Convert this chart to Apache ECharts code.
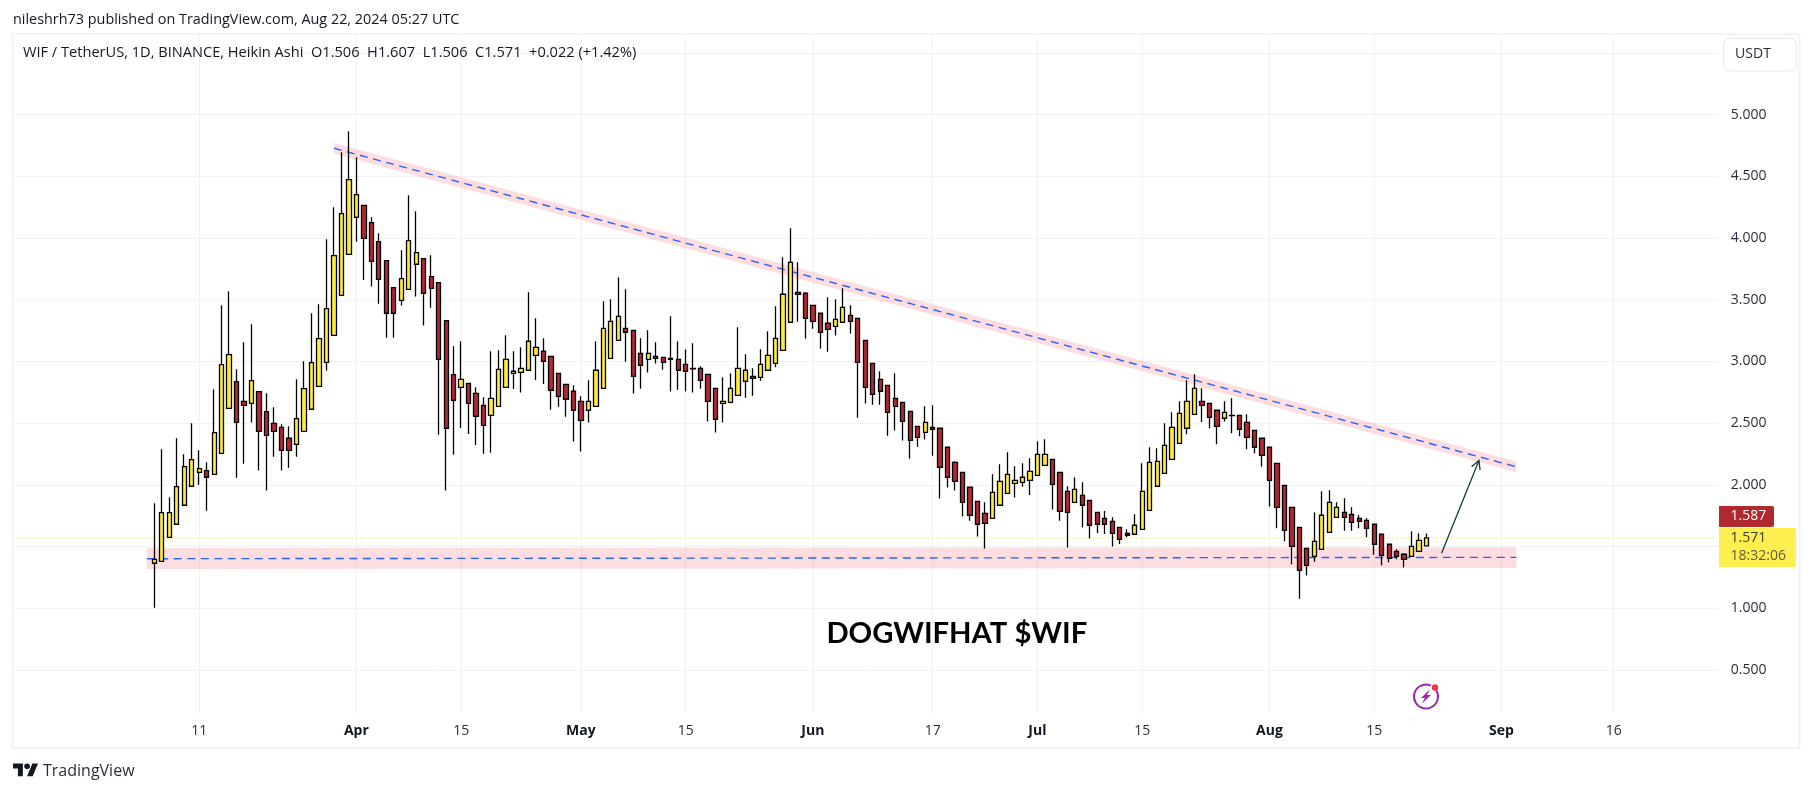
<!DOCTYPE html>
<html><head><meta charset="utf-8"><title>WIF</title>
<style>html,body{margin:0;padding:0;background:#fff}#c{width:1814px;height:792px}</style>
<script src="https://cdn.jsdelivr.net/npm/echarts@6/dist/echarts.min.js"></script></head>
<body><div id="c"></div>
<script>
const opens=[1.365,1.381,1.575,1.681,1.835,1.989,2.102,2.116,2.086,2.256,
2.621,2.837,2.677,2.661,2.756,2.594,2.499,2.467,2.378,2.329,
2.434,2.613,2.799,2.993,3.212,3.536,3.869,4.169,4.266,4.125,
3.971,3.817,3.599,3.496,3.585,3.788,3.834,3.688,3.639,3.331,
2.894,2.791,2.823,2.742,2.645,2.564,2.637,2.791,2.904,2.912,
2.929,3.050,3.083,3.042,2.904,2.815,2.759,2.677,2.605,2.637,
2.783,3.026,3.172,3.269,3.253,3.066,3.018,3.042,3.034,3.026,
3.018,2.977,2.945,2.945,2.896,2.783,2.661,2.669,2.726,2.840,
2.880,2.872,2.929,2.985,3.091,3.318,3.561,3.553,3.455,3.391,
3.310,3.285,3.318,3.374,3.350,3.172,2.985,2.856,2.807,2.702,
2.669,2.596,2.475,2.426,2.467,2.459,2.305,2.183,2.102,1.981,
1.867,1.770,1.729,1.835,1.932,2.013,2.021,2.037,2.078,2.159,
2.207,2.102,1.948,1.859,1.916,1.875,1.778,1.729,1.705,1.656,
1.608,1.600,1.640,1.794,1.989,2.094,2.207,2.337,2.459,2.572,
2.677,2.661,2.605,2.540,2.564,2.564,2.507,2.442,2.378,2.305,
2.175,1.997,1.818,1.656,1.486,1.421,1.478,1.616,1.737,1.778,
1.762,1.729,1.713,1.681,1.600,1.519,1.462,1.438,1.421,1.462,1.506];
const closes=[1.397,1.775,1.775,1.986,2.148,2.205,2.132,2.062,2.424,2.975,
3.056,2.507,2.645,2.845,2.434,2.402,2.434,2.280,2.280,2.537,
2.780,2.991,3.185,3.428,3.858,4.198,4.474,4.352,3.998,3.812,
3.666,3.391,3.391,3.671,3.979,3.882,3.553,3.593,3.018,2.459,
2.686,2.856,2.661,2.556,2.483,2.702,2.937,3.018,2.921,2.945,
3.164,3.115,3.002,2.767,2.718,2.694,2.605,2.523,2.677,2.929,
3.269,3.326,3.366,3.237,2.880,2.969,3.066,3.026,2.993,3.018,
2.929,2.921,2.940,2.848,2.677,2.532,2.677,2.783,2.945,2.929,
2.864,2.977,3.050,3.188,3.545,3.804,3.545,3.350,3.326,3.237,
3.261,3.342,3.439,3.326,2.993,2.791,2.734,2.759,2.588,2.637,
2.515,2.361,2.386,2.507,2.451,2.143,2.062,2.029,1.859,1.754,
1.681,1.689,1.940,2.029,2.086,2.037,2.062,2.110,2.248,2.248,
2.005,1.786,1.778,1.964,1.835,1.673,1.681,1.681,1.608,1.559,
1.592,1.673,1.948,2.183,2.191,2.321,2.467,2.580,2.677,2.783,
2.645,2.548,2.475,2.588,2.561,2.451,2.386,2.305,2.240,2.037,
1.818,1.632,1.502,1.308,1.348,1.543,1.754,1.859,1.818,1.737,
1.697,1.705,1.648,1.519,1.429,1.405,1.421,1.397,1.502,1.551,1.571];
const lows=[1.005,1.381,1.575,1.681,1.835,1.989,2.002,1.791,2.086,2.256,
2.621,2.059,2.172,2.505,2.116,1.954,2.229,2.116,2.140,2.229,
2.434,2.613,2.799,2.926,3.212,3.536,3.869,3.971,3.661,3.607,
3.469,3.193,3.193,3.453,3.585,3.526,3.291,3.436,2.407,1.954,
2.245,2.461,2.413,2.324,2.253,2.261,2.637,2.791,2.777,2.748,
2.929,2.850,2.818,2.610,2.634,2.553,2.351,2.270,2.505,2.637,
2.783,3.026,3.172,2.999,2.740,2.780,2.910,2.983,2.934,2.756,
2.772,2.756,2.748,2.780,2.513,2.424,2.505,2.661,2.726,2.707,
2.723,2.845,2.929,2.953,3.091,3.318,3.323,3.185,3.266,3.104,
3.080,3.210,3.318,3.226,2.545,2.659,2.650,2.650,2.399,2.440,
2.359,2.213,2.310,2.367,2.237,1.889,1.978,1.954,1.743,1.710,
1.581,1.484,1.729,1.835,1.932,1.897,1.986,1.918,2.078,2.159,
1.800,1.710,1.492,1.859,1.654,1.565,1.610,1.602,1.500,1.521,
1.575,1.600,1.640,1.794,1.989,2.094,2.207,2.337,2.410,2.572,
2.507,2.459,2.329,2.513,2.418,2.394,2.288,2.256,2.148,1.824,
1.648,1.543,1.357,1.078,1.265,1.378,1.478,1.616,1.737,1.629,
1.629,1.648,1.575,1.435,1.348,1.373,1.397,1.330,1.421,1.462,1.506];
const highs=[1.851,2.288,1.900,2.378,2.248,2.499,2.280,2.183,2.775,3.455,
3.569,2.937,3.156,3.301,2.756,2.742,2.629,2.491,2.475,2.856,
3.002,3.391,3.464,3.990,4.250,4.695,4.865,4.655,4.266,4.169,
4.039,3.817,3.599,3.901,4.347,4.217,3.834,3.861,3.639,3.331,
3.123,3.164,2.823,2.791,2.710,3.083,3.091,3.212,3.083,3.115,
3.561,3.350,3.188,3.042,2.904,2.815,2.807,2.718,2.848,3.164,
3.488,3.504,3.682,3.585,3.253,3.188,3.253,3.156,3.034,3.366,
3.164,3.099,3.147,2.961,2.896,2.783,2.872,2.904,3.277,3.058,
2.945,3.099,3.245,3.447,3.844,4.079,3.804,3.561,3.455,3.391,
3.520,3.504,3.593,3.455,3.350,3.172,2.985,2.921,2.807,2.904,
2.669,2.596,2.475,2.637,2.645,2.459,2.305,2.191,2.102,1.981,
1.867,1.859,2.086,2.167,2.264,2.151,2.175,2.216,2.353,2.370,
2.207,2.102,1.989,2.062,2.021,1.875,1.778,1.789,1.737,1.656,
1.640,1.762,2.175,2.305,2.297,2.499,2.588,2.677,2.848,2.896,
2.783,2.661,2.605,2.677,2.702,2.564,2.572,2.442,2.378,2.305,
2.175,1.997,1.818,1.656,1.486,1.778,1.948,1.956,1.859,1.891,
1.818,1.756,1.729,1.681,1.600,1.519,1.478,1.446,1.624,1.608,1.607];

// days counted from the first candle (5 Mar 2024)
const timeTickDays=[6,27,41,57,71,88,104,118,132,149,163,180,195];
const timeTickLabels=['11','Apr','15','May','15','Jun','17','Jul','15','Aug','15','Sep','16'];
const monthLabels=['Apr','May','Jun','Jul','Aug','Sep'];
const priceGrid=[0.5,1,1.5,2,2.5,3,3.5,4,4.5,5,5.5];
const priceLabels=[0.5,1,1.5,2,2.5,3,3.5,4,4.5,5];
const lastPrice=1.571;

// drawings: [day, upper, lower, day, upper, lower]
const trendBand=[24,4.771,4.685,182,2.190,2.104];
const trendDash=[[24,4.728],[182,2.147]];
const supportBand=[-1,1.489,1.319,182,1.494,1.327];
const supportDash=[[-1,1.402],[182,1.413]];
const arrowLine=[172,1.446,177,2.197];

const LEAD=19, BANDS=229, STEP=7.484, FIRST_X=154.3;
const gridLeft=FIRST_X-(LEAD+.5)*STEP;
const cats=Array.from({length:BANDS},(_,i)=>i-LEAD);
const tickIdx=new Map(timeTickDays.map((d,k)=>[d+LEAD,timeTickLabels[k]]));
const blank=Array.from({length:LEAD},()=>['-','-','-','-']);
const candles=blank.concat(opens.map((o,i)=>[o,closes[i],lows[i],highs[i]]));

const UI='"Open Sans",sans-serif';
const chart=echarts.init(document.getElementById('c'),null,{renderer:'canvas',width:1814,height:792});

function bandItem(p,api){
  const a=api.coord([api.value(0),api.value(1)]),b=api.coord([api.value(0),api.value(2)]),
        c=api.coord([api.value(3),api.value(5)]),d=api.coord([api.value(3),api.value(4)]);
  return {type:'polygon',shape:{points:[a,d,c,b]},style:{fill:'rgba(242,54,69,0.17)'},silent:true};
}
function arrowItem(p,api){
  const a=api.coord([api.value(0),api.value(1)]),b=api.coord([api.value(2),api.value(3)]);
  const ang=Math.atan2(b[1]-a[1],b[0]-a[0]),L=9.5,sp=0.5;
  const w1=[b[0]-L*Math.cos(ang-sp),b[1]-L*Math.sin(ang-sp)],
        w2=[b[0]-L*Math.cos(ang+sp),b[1]-L*Math.sin(ang+sp)];
  const st={stroke:'#123f3c',lineWidth:1.3,fill:null};
  return {type:'group',children:[
    {type:'polyline',shape:{points:[a,b]},style:st},
    {type:'polyline',shape:{points:[w1,b,w2]},style:st}]};
}
const lineBase={type:'line',xAxisIndex:1,yAxisIndex:0,showSymbol:false,symbol:'none',silent:true,animation:false};

chart.setOption({
  animation:false,backgroundColor:'#fff',
  grid:{left:gridLeft,top:34.5,width:BANDS*STEP,height:678.7,containLabel:false},
  xAxis:[{type:'category',data:cats,boundaryGap:true,
      axisLine:{show:false},axisTick:{show:false},
      splitLine:{show:true,alignWithLabel:true,interval:i=>tickIdx.has(i),lineStyle:{color:'#f1f2f4',width:1}},
      axisLabel:{interval:i=>tickIdx.has(i),margin:11,fontFamily:UI,fontSize:14,color:'#2a2e39',
        formatter:v=>{const t=tickIdx.get(+v+LEAD);return monthLabels.includes(t)?'{b|'+t+'}':t;},
        rich:{b:{fontWeight:700,fontFamily:UI,fontSize:14,color:'#131722'}}}},
    {type:'value',min:-LEAD-.5,max:BANDS-LEAD-.5,show:false,splitLine:{show:false}}],
  yAxis:[{type:'value',min:.15,max:5.65,position:'right',scale:true,
      axisLine:{show:false},axisLabel:{show:false},
      axisTick:{show:false,customValues:priceGrid},
      splitLine:{show:true,lineStyle:{color:'#f1f2f4',width:1}}},
    {type:'value',min:.15,max:5.65,position:'right',z:60,
      axisLine:{show:false},axisTick:{show:false},splitLine:{show:false},
      axisLabel:{show:true,customValues:priceLabels,margin:8.5,fontFamily:UI,fontSize:14,color:'#2a2e39',
        formatter:v=>(+v).toFixed(3)}}],
  series:[
    {type:'custom',xAxisIndex:1,yAxisIndex:0,z:1,clip:false,silent:true,renderItem:bandItem,data:[trendBand,supportBand]},
    {...lineBase,z:2,data:trendDash,lineStyle:{color:'#2962ff',width:1.4,type:[8,5.5]}},
    {...lineBase,z:2,data:supportDash,lineStyle:{color:'#2962ff',width:1.4,type:[8,5.5]}},
    {...lineBase,z:2,data:[[-LEAD-.5,lastPrice],[BANDS-LEAD-.5,lastPrice]],lineStyle:{color:'#ffe600',width:1.2,type:[1,3]}},
    {type:'candlestick',xAxisIndex:0,yAxisIndex:0,z:5,barWidth:4.8,data:candles,silent:true,
      itemStyle:{color:'#ffeb3b',color0:'#b22833',borderColor:'#000',borderColor0:'#000',borderWidth:1.3}},
    {type:'custom',xAxisIndex:1,yAxisIndex:0,z:6,clip:false,silent:true,renderItem:arrowItem,data:[arrowLine]}
  ],
  graphic:[
    {type:'rect',z:50,silent:true,shape:{x:0,y:0,width:12,height:792},style:{fill:'#fff'}},
    {type:'rect',z:50,silent:true,shape:{x:1719,y:34,width:80,height:713},style:{fill:'#fff'}},
    {type:'rect',z:51,silent:true,shape:{x:12.5,y:34,width:1787,height:714},style:{fill:'none',stroke:'#f0f3fa',lineWidth:2}},
    {type:'text',z:70,style:{x:13,y:19.5,text:'nileshrh73 published on TradingView.com, Aug 22, 2024 05:27 UTC',font:'14.4px '+UI,fill:'#131722',textVerticalAlign:'middle'}},
    {type:'text',z:70,style:{x:23,y:53,text:'WIF / TetherUS, 1D, BINANCE, Heikin Ashi  O1.506  H1.607  L1.506  C1.571  +0.022 (+1.42%)',font:'14.6px '+UI,fill:'#131722',textVerticalAlign:'middle'}},
    {type:'text',z:70,style:{x:956.8,y:634,text:'DOGWIFHAT $WIF',font:'700 29.2px Lato,sans-serif',fill:'#000',textAlign:'center',textVerticalAlign:'middle'}},
    {type:'rect',z:70,shape:{x:1723.5,y:38.5,width:73,height:32.5,r:6},style:{fill:'#fff',stroke:'#e6e8ef',lineWidth:1}},
    {type:'text',z:71,style:{x:1753,y:54.5,text:'USDT',font:'14px '+UI,fill:'#2a2e39',textAlign:'center',textVerticalAlign:'middle'}},
    {type:'rect',z:70,shape:{x:1719,y:506,width:55,height:21,r:[0,2,2,0]},style:{fill:'#b2282f'}},
    {type:'text',z:71,style:{x:1730.5,y:516.5,text:'1.587',font:'14px '+UI,fill:'#fff',textVerticalAlign:'middle'}},
    {type:'rect',z:70,shape:{x:1719,y:528,width:77,height:39,r:[0,2,2,0]},style:{fill:'#ffee50'}},
    {type:'text',z:71,style:{x:1730.5,y:538.5,text:'1.571',font:'14px '+UI,fill:'#3a3a2a',textVerticalAlign:'middle'}},
    {type:'text',z:71,style:{x:1730.5,y:556.5,text:'18:32:06',font:'14px '+UI,fill:'#5f5e30',textVerticalAlign:'middle'}},
    {type:'arc',z:70,shape:{cx:1426,cy:696.5,r:12,startAngle:-0.55,endAngle:-1.15,clockwise:true},style:{stroke:'#9c27b0',lineWidth:2,fill:'none'}},
    {type:'polygon',z:71,shape:{points:[[1430,689],[1421,698],[1425,698],[1421.5,704],[1431,695],[1427,695]]},style:{fill:'#9c27b0'}},
    {type:'circle',z:71,shape:{cx:1435,cy:687.5,r:3.2},style:{fill:'#f23645'}},
    {type:'polygon',z:70,shape:{points:[[13,763.5],[22.86,763.5],[22.86,776.2],[17.93,776.2],[17.93,768.4],[13,768.4]]},style:{fill:'#131722'}},
    {type:'polygon',z:70,shape:{points:[[27.08,776.2],[32.7,776.2],[38,763.5],[32.36,763.5]]},style:{fill:'#131722'}},
    {type:'circle',z:70,shape:{cx:27.08,cy:766.3,r:2.82},style:{fill:'#131722'}},
    {type:'text',z:70,style:{x:43,y:771.5,text:'TradingView',font:'16px '+UI,fill:'#2a2e39',textVerticalAlign:'middle'}}
  ]
});
</script></body></html>
